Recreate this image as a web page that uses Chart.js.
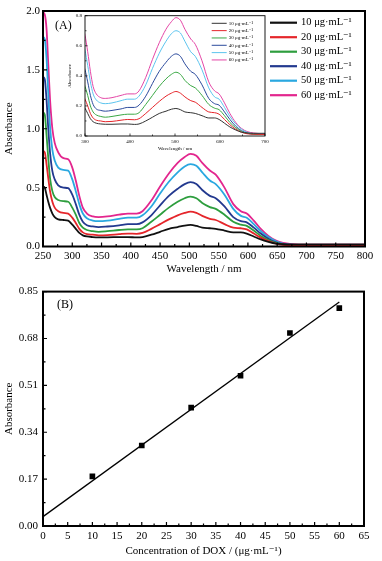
<!DOCTYPE html>
<html><head><meta charset="utf-8">
<script src="https://cdn.jsdelivr.net/npm/chart.js@4.4.1/dist/chart.umd.min.js"></script>
<style>
html,body{margin:0;padding:0;background:#fff;}
#wrap{position:relative;width:382px;height:561px;overflow:hidden;background:#fff;}
canvas{position:absolute;}
</style></head><body>
<div id="wrap">
<canvas id="cA" width="382" height="280" style="left:0;top:0;width:382px;height:280px"></canvas>
<canvas id="cI" width="215" height="148" style="left:60px;top:8px;width:215px;height:148px"></canvas>
<canvas id="cB" width="382" height="281" style="left:0;top:280px;width:382px;height:281px"></canvas>
</div>
<script>
// ---------- DATA ----------
const wavelength = [250,253,256,259,262,266,270,276,285,293,300,306,312,318,325,335,345,360,380,395,410,420,435,450,465,480,492,502,512,522,535,545,560,575,588,598,610,622,635,648,660,675,700,750,800];
const abs10 = [0.51,0.50,0.44,0.38,0.33,0.28,0.25,0.23,0.225,0.22,0.185,0.15,0.115,0.095,0.085,0.08,0.078,0.078,0.08,0.08,0.077,0.08,0.10,0.125,0.15,0.165,0.178,0.183,0.175,0.16,0.155,0.15,0.135,0.12,0.12,0.11,0.085,0.06,0.04,0.025,0.02,0.018,0.018,0.018,0.018];
const abs20 = [0.81,0.80,0.70,0.58,0.47,0.38,0.33,0.30,0.285,0.28,0.245,0.20,0.15,0.12,0.105,0.10,0.095,0.097,0.105,0.11,0.108,0.115,0.15,0.19,0.23,0.265,0.285,0.296,0.285,0.26,0.235,0.225,0.19,0.16,0.155,0.145,0.11,0.075,0.045,0.025,0.015,0.012,0.01,0.01,0.01];
const abs30 = [1.14,1.12,0.95,0.75,0.58,0.47,0.42,0.395,0.385,0.38,0.33,0.27,0.20,0.16,0.14,0.13,0.125,0.13,0.14,0.145,0.145,0.155,0.21,0.27,0.33,0.38,0.41,0.424,0.41,0.37,0.335,0.32,0.27,0.21,0.185,0.175,0.135,0.09,0.055,0.03,0.018,0.012,0.01,0.01,0.01];
const abs40 = [1.44,1.42,1.25,1.00,0.80,0.64,0.57,0.52,0.50,0.495,0.44,0.36,0.27,0.21,0.18,0.17,0.165,0.17,0.18,0.19,0.19,0.205,0.265,0.35,0.43,0.49,0.53,0.546,0.53,0.48,0.43,0.41,0.34,0.25,0.215,0.205,0.16,0.11,0.065,0.035,0.02,0.012,0.01,0.01,0.01];
const abs50 = [1.78,1.76,1.60,1.30,1.02,0.82,0.73,0.67,0.65,0.645,0.57,0.47,0.36,0.28,0.24,0.22,0.215,0.22,0.235,0.245,0.245,0.265,0.34,0.45,0.55,0.63,0.68,0.70,0.685,0.63,0.56,0.53,0.44,0.32,0.26,0.245,0.19,0.13,0.08,0.045,0.025,0.015,0.012,0.012,0.012];
const abs60 = [1.99,1.97,1.85,1.55,1.25,1.00,0.88,0.80,0.75,0.74,0.67,0.56,0.43,0.33,0.28,0.255,0.25,0.255,0.27,0.28,0.28,0.30,0.39,0.51,0.62,0.71,0.76,0.787,0.77,0.71,0.645,0.61,0.50,0.36,0.30,0.28,0.22,0.15,0.09,0.05,0.03,0.02,0.015,0.015,0.015];
const seriesLabels = ['10 \u03bcg\u00b7mL\u207b\u00b9','20 \u03bcg\u00b7mL\u207b\u00b9','30 \u03bcg\u00b7mL\u207b\u00b9','40 \u03bcg\u00b7mL\u207b\u00b9','50 \u03bcg\u00b7mL\u207b\u00b9','60 \u03bcg\u00b7mL\u207b\u00b9'];
const concentration = [10,20,30,40,50,60];
const absorbanceB = [0.18,0.292,0.429,0.545,0.70,0.79];
const fitX = [0,60];
const fitY = [0.034,0.812];
const xTicksA = [250,300,350,400,450,500,550,600,650,700,750,800];
const yTicksA = [0,0.5,1.0,1.5,2.0];
const xTicksI = [300,400,500,600,700];
const yTicksI = [0,0.2,0.4,0.6,0.8];
const xTicksB = [0,5,10,15,20,25,30,35,40,45,50,55,60,65];
const yTicksB = [0,0.17,0.34,0.51,0.68,0.85];

// ---------- STYLE ----------
const colors = ['#111111','#e5262b','#2e9e3e','#23398f','#2aa8e0','#e3268e'];
const colorsInset = ['#333333','#e5262b','#3aa844','#2b4a9c','#5cc4ee','#e447a6'];
const serif = "'Liberation Serif', 'DejaVu Serif', serif";
const seriesData = [abs10,abs20,abs30,abs40,abs50,abs60];

function pts(arr){ return wavelength.map((w,i)=>({x:w,y:arr[i]})); }
function setTicks(list){ return s => { s.ticks = list.map(v=>({value:v})); }; }

const framePlugin = {
  id:'frame',
  afterDatasetsDraw(chart, args, o){
    const {ctx, chartArea:a} = chart;
    const xs = chart.scales.x, ys = chart.scales.y;
    ctx.save();
    ctx.strokeStyle = '#000';
    ctx.lineWidth = o.tickWidth;
    const xv = xs.ticks.map(t=>t.value), yv = ys.ticks.map(t=>t.value);
    ctx.beginPath();
    xv.forEach((v,i)=>{
      const px = xs.getPixelForValue(v);
      ctx.moveTo(px,a.bottom); ctx.lineTo(px,a.bottom-o.major);
      if(i<xv.length-1){ const m = xs.getPixelForValue((v+xv[i+1])/2); ctx.moveTo(m,a.bottom); ctx.lineTo(m,a.bottom-o.minor); }
    });
    yv.forEach((v,i)=>{
      const py = ys.getPixelForValue(v);
      ctx.moveTo(a.left,py); ctx.lineTo(a.left+o.major,py);
      if(i<yv.length-1){ const m = ys.getPixelForValue((v+yv[i+1])/2); ctx.moveTo(a.left,m); ctx.lineTo(a.left+o.minor,m); }
    });
    ctx.stroke();
    ctx.lineWidth = o.lineWidth;
    ctx.strokeRect(a.left, a.top, a.right-a.left, a.bottom-a.top);
    if(o.tag){
      ctx.fillStyle='#000'; ctx.font = o.tag.font; ctx.textBaseline='middle'; ctx.textAlign='left';
      ctx.fillText(o.tag.text, o.tag.x, o.tag.y);
    }
    if(o.legend){
      const L = o.legend;
      chart.data.datasets.forEach((d,i)=>{
        if(!L.include(d)) return;
        const y = L.y + L.dy*L.index(i);
        ctx.strokeStyle = d.borderColor; ctx.lineWidth = L.lineWidth;
        ctx.beginPath(); ctx.moveTo(L.x,y); ctx.lineTo(L.x+L.len,y); ctx.stroke();
        ctx.fillStyle='#000'; ctx.font = L.font; ctx.textBaseline='middle'; ctx.textAlign='left';
        ctx.fillText(d.label, L.x+L.len+L.gap, y);
      });
    }
    ctx.restore();
  }
};

function spectraDatasets(cols, w){
  return seriesData.map((arr,i)=>({label:seriesLabels[i], data:pts(arr), borderColor:cols[i], borderWidth:w, pointRadius:0, tension:0.4, cubicInterpolationMode:'monotone', fill:false}));
}

const base = {responsive:false, animation:false, devicePixelRatio:1, events:[]};

// ---------- CHART A ----------
new Chart(document.getElementById('cA'), {
  type:'line',
  data:{datasets: spectraDatasets(colors, 1.8)},
  plugins:[framePlugin],
  options:Object.assign({}, base, {
    layout:{padding:{left:0,top:11,right:17,bottom:0}},
    plugins:{legend:{display:false}, tooltip:{enabled:false},
      frame:{tickWidth:1.2, major:4, minor:2.5, lineWidth:2,
        tag:{text:'(A)', x:55, y:26, font:"12px "+serif},
        legend:{x:270, y:22.7, dy:14.5, len:27, gap:4, lineWidth:2.2, font:"10.5px "+serif, include:()=>true, index:i=>i}}},
    scales:{
      x:{type:'linear', min:250, max:800, afterBuildTicks:setTicks(xTicksA), afterFit:s=>{s.height=33.5;},
        grid:{display:false, drawTicks:false}, border:{display:false},
        ticks:{color:'#000', font:{family:serif,size:11}, padding:3, maxRotation:0, autoSkip:false},
        title:{display:true, text:'Wavelength / nm', color:'#000', font:{family:serif,size:11}, padding:{top:0,bottom:4}}},
      y:{type:'linear', min:0, max:2.0, afterBuildTicks:setTicks(yTicksA), afterFit:s=>{s.width=43;},
        grid:{display:false, drawTicks:false}, border:{display:false},
        ticks:{color:'#000', font:{family:serif,size:11}, padding:3, callback:v=>v.toFixed(1)},
        title:{display:true, text:'Absorbance', color:'#000', font:{family:serif,size:11}, padding:{top:3,bottom:0}}}
    }
  })
});

// ---------- INSET ----------
new Chart(document.getElementById('cI'), {
  type:'line',
  data:{datasets: spectraDatasets(colorsInset, 1)},
  plugins:[framePlugin],
  options:Object.assign({}, base, {
    layout:{padding:{left:0,top:7.7,right:10,bottom:0}},
    plugins:{legend:{display:false}, tooltip:{enabled:false},
      frame:{tickWidth:0.7, major:2.5, minor:1.5, lineWidth:0.9,
        legend:{x:151.7, y:15.3, dy:7.33, len:15, gap:2, lineWidth:1, font:"5px "+serif, include:()=>true, index:i=>i}}},
    scales:{
      x:{type:'linear', min:300, max:700, afterBuildTicks:setTicks(xTicksI), afterFit:s=>{s.height=20;},
        grid:{display:false, drawTicks:false}, border:{display:false},
        ticks:{color:'#000', font:{family:serif,size:5}, padding:3, maxRotation:0, autoSkip:false},
        title:{display:true, text:'Wavelength / nm', color:'#000', font:{family:serif,size:5}, padding:{top:0,bottom:4.5}}},
      y:{type:'linear', min:0, max:0.8, afterBuildTicks:setTicks(yTicksI), afterFit:s=>{s.width=25;},
        grid:{display:false, drawTicks:false}, border:{display:false},
        ticks:{color:'#000', font:{family:serif,size:5}, padding:3, callback:v=>v.toFixed(1)},
        title:{display:true, text:'Absorbance', color:'#000', font:{family:serif,size:5}, padding:{top:7,bottom:0}}}
    }
  })
});

// ---------- CHART B ----------
new Chart(document.getElementById('cB'), {
  type:'scatter',
  data:{datasets:[
    {label:'fit', type:'line', data:fitX.map((x,i)=>({x:x,y:fitY[i]})), borderColor:'#000', borderWidth:1.3, pointRadius:0, fill:false},
    {label:'data', data:concentration.map((x,i)=>({x:x,y:absorbanceB[i]})), backgroundColor:'#000', borderColor:'#000', pointStyle:'rect', pointRadius:4, borderWidth:0}
  ]},
  plugins:[framePlugin],
  options:Object.assign({}, base, {
    layout:{padding:{left:0,top:11,right:18,bottom:0}},
    plugins:{legend:{display:false}, tooltip:{enabled:false},
      frame:{tickWidth:1.2, major:4, minor:2.5, lineWidth:2,
        tag:{text:'(B)', x:57, y:25, font:"12px "+serif}}},
    scales:{
      x:{type:'linear', min:0, max:65, afterBuildTicks:setTicks(xTicksB), afterFit:s=>{s.height=35;},
        grid:{display:false, drawTicks:false}, border:{display:false},
        ticks:{color:'#000', font:{family:serif,size:11}, padding:4, maxRotation:0, autoSkip:false},
        title:{display:true, text:'Concentration of DOX / (\u03bcg\u00b7mL\u207b\u00b9)', color:'#000', font:{family:serif,size:11}, padding:{top:0,bottom:3}}},
      y:{type:'linear', min:0, max:0.85, afterBuildTicks:setTicks(yTicksB), afterFit:s=>{s.width=43;},
        grid:{display:false, drawTicks:false}, border:{display:false},
        ticks:{color:'#000', font:{family:serif,size:11}, padding:5, callback:v=>v.toFixed(2)},
        title:{display:true, text:'Absorbance', color:'#000', font:{family:serif,size:11}, padding:{top:3,bottom:0}}}
    }
  })
});
</script>
</body></html>
